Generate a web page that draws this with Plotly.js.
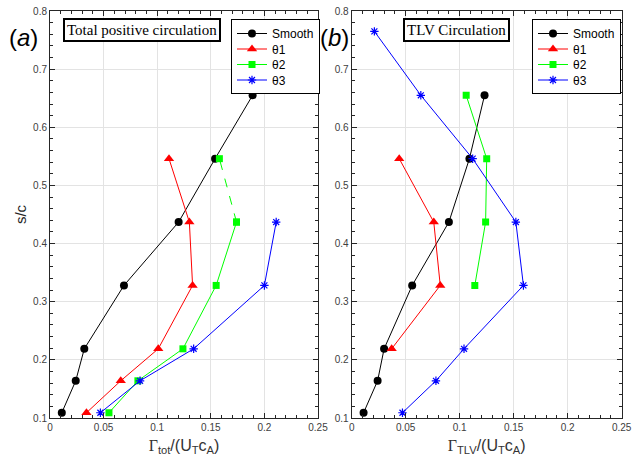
<!DOCTYPE html>
<html>
<head>
<meta charset="utf-8">
<script src="https://cdn.plot.ly/plotly-3.0.1.min.js"></script>
<style>html,body{margin:0;padding:0;background:#fff;}#chart{width:635px;height:457px;}</style>
</head>
<body>
<div id="chart"></div>
<script>
// ---- data (s/c levels and normalized circulation) ----
const seriesNames = ['Smooth', 'θ1', 'θ2', 'θ3'];

// (a) Total positive circulation
const totSmoothS = [0.109, 0.164, 0.219, 0.328, 0.437, 0.546, 0.655];
const totSmoothX = [0.011, 0.024, 0.032, 0.069, 0.120, 0.154, 0.189];
const totTheta1S = [0.109, 0.164, 0.219, 0.328, 0.437, 0.546];
const totTheta1X = [0.034, 0.066, 0.101, 0.133, 0.130, 0.111];
const totTheta2S = [0.109, 0.164, 0.219, 0.328, 0.437, 0.546];
const totTheta2X = [0.055, 0.082, 0.124, 0.155, 0.174, 0.158];
const totTheta3S = [0.109, 0.164, 0.219, 0.328, 0.437];
const totTheta3X = [0.047, 0.084, 0.134, 0.200, 0.211];

// (b) TLV circulation
const tlvSmoothS = [0.109, 0.164, 0.219, 0.328, 0.437, 0.546, 0.655];
const tlvSmoothX = [0.011, 0.024, 0.030, 0.056, 0.090, 0.109, 0.123];
const tlvTheta1S = [0.219, 0.328, 0.437, 0.546];
const tlvTheta1X = [0.037, 0.082, 0.076, 0.044];
const tlvTheta2S = [0.328, 0.437, 0.546, 0.655];
const tlvTheta2X = [0.114, 0.124, 0.125, 0.106];
const tlvTheta3S = [0.109, 0.164, 0.219, 0.328, 0.437, 0.546, 0.655, 0.765];
const tlvTheta3X = [0.047, 0.078, 0.104, 0.159, 0.152, 0.112, 0.064, 0.021];

const xTicks = [0, 0.05, 0.1, 0.15, 0.2, 0.25];
const xTickText = ['0', '0.05', '0.1', '0.15', '0.2', '0.25'];
const yTicks = [0.1, 0.2, 0.3, 0.4, 0.5, 0.6, 0.7, 0.8];
const yTickText = ['0.1', '0.2', '0.3', '0.4', '0.5', '0.6', '0.7', '0.8'];

// ---- styles ----
const styles = [
  {color: '#000000', symbol: 'circle', size: 8},
  {color: '#ff0000', symbol: 'triangle-up', size: 9},
  {color: '#00ff00', symbol: 'square', size: 7},
  {color: '#0000ff', symbol: 'asterisk-open', size: 7}
];

function tr(x, y, i, xa, ya, leg, showleg, dash) {
  const s = styles[i];
  const m = {color: s.color, symbol: s.symbol, size: s.size};
  if (s.symbol === 'asterisk-open') m.line = {color: s.color, width: 1.2};
  return {
    x: x, y: y, type: 'scatter', mode: 'lines+markers',
    name: seriesNames[i], xaxis: xa, yaxis: ya, legend: leg,
    showlegend: showleg,
    line: {color: s.color, width: 1, dash: dash || 'solid'},
    marker: m
  };
}

const nT2 = totTheta2S.length;
const data = [
  tr(totSmoothX, totSmoothS, 0, 'x', 'y', 'legend', true),
  tr(totTheta1X, totTheta1S, 1, 'x', 'y', 'legend', true),
  tr(totTheta2X.slice(0, nT2 - 1), totTheta2S.slice(0, nT2 - 1), 2, 'x', 'y', 'legend', true),
  tr(totTheta2X.slice(nT2 - 2), totTheta2S.slice(nT2 - 2), 2, 'x', 'y', 'legend', false, 'dash'),
  tr(totTheta3X, totTheta3S, 3, 'x', 'y', 'legend', true),
  tr(tlvSmoothX, tlvSmoothS, 0, 'x2', 'y2', 'legend2', true),
  tr(tlvTheta1X, tlvTheta1S, 1, 'x2', 'y2', 'legend2', true),
  tr(tlvTheta2X, tlvTheta2S, 2, 'x2', 'y2', 'legend2', true),
  tr(tlvTheta3X, tlvTheta3S, 3, 'x2', 'y2', 'legend2', true)
];

const W = 635, H = 457;
const axisCol = '#262626';
const tickFont = {family: 'Liberation Sans, Arial, sans-serif', size: 10, color: '#404040'};

function xAxis(d0, d1, anchor, titleHtml) {
  return {
    domain: [d0 / W, d1 / W], anchor: anchor, range: [0, 0.25],
    tickmode: 'array', tickvals: xTicks, ticktext: xTickText,
    ticks: 'inside', ticklen: 5, tickcolor: axisCol, tickwidth: 1,
    showline: true, linecolor: axisCol, linewidth: 1, mirror: 'allticks',
    showgrid: true, gridcolor: '#e3e3e3', gridwidth: 1, zeroline: false,
    minor: {tickmode: 'linear', tick0: 0, dtick: 0.01, ticks: 'inside', ticklen: 3, tickcolor: axisCol, showgrid: false},
    tickfont: tickFont,
    title: {text: titleHtml, font: {family: 'Liberation Sans, Arial, sans-serif', size: 16, color: '#333'}, standoff: 7}
  };
}
function yAxis(anchor, titleText) {
  return {
    domain: [1 - 418 / H, 1 - 11 / H], anchor: anchor, range: [0.1, 0.8],
    tickmode: 'array', tickvals: yTicks, ticktext: yTickText,
    ticks: 'inside', ticklen: 5, tickcolor: axisCol, tickwidth: 1,
    showline: true, linecolor: axisCol, linewidth: 1, mirror: 'allticks',
    showgrid: true, gridcolor: '#e3e3e3', gridwidth: 1, zeroline: false,
    minor: {tickmode: 'linear', tick0: 0.1, dtick: 0.02, ticks: 'inside', ticklen: 3, tickcolor: axisCol, showgrid: false},
    tickfont: tickFont,
    title: {text: titleText, font: {family: 'Liberation Sans, Arial, sans-serif', size: 15, color: '#262626'}, standoff: 2}
  };
}

const G = '<span style="font-family:Liberation Serif">Γ</span>';
const legendBase = {
  bgcolor: '#ffffff', bordercolor: '#000000', borderwidth: 1,
  font: {family: 'Liberation Sans, Arial, sans-serif', size: 12, color: '#000'},
  xanchor: 'left', yanchor: 'top', xref: 'paper', yref: 'paper',
  tracegroupgap: 0, itemwidth: 30
};

function boxTitle(text, cx) {
  return {text: text, xref: 'paper', yref: 'paper', x: cx / W, y: 1 - 30.5 / H,
    xanchor: 'center', yanchor: 'middle',
    showarrow: false, font: {family: 'Liberation Serif, Times New Roman, serif', size: 15, color: '#000'},
    bordercolor: '#000', borderwidth: 2, borderpad: 2, bgcolor: '#fff'};
}
function panelLabel(text, cx) {
  return {text: text, xref: 'paper', yref: 'paper', x: cx / W, y: 1 - 37 / H,
    xanchor: 'center', yanchor: 'middle',
    showarrow: false, font: {family: 'Liberation Sans, Arial, sans-serif', size: 24, color: '#000'}};
}

const layout = {
  width: W, height: H,
  margin: {l: 0, r: 0, t: 0, b: 0},
  paper_bgcolor: '#ffffff', plot_bgcolor: '#ffffff',
  showlegend: true,
  xaxis: xAxis(50, 318, 'y', G + '<sub>tot</sub>/(U<sub>T</sub>c<sub>A</sub>)'),
  yaxis: yAxis('x', 's/c'),
  xaxis2: xAxis(351.7, 621.7, 'y2', G + '<sub>TLV</sub>/(U<sub>T</sub>c<sub>A</sub>)'),
  yaxis2: yAxis('x2', ''),
  legend: Object.assign({}, legendBase, {x: 231 / W, y: 1 - 19 / H}),
  legend2: Object.assign({}, legendBase, {x: 532 / W, y: 1 - 19 / H}),
  annotations: [
    boxTitle('Total positive circulation', 141.5),
    boxTitle('TLV Circulation', 456),
    panelLabel('(<i>a</i>)', 23),
    panelLabel('(<i>b</i>)', 335)
  ]
};

// Tighten legend row spacing (MATLAB-style compact legend)
function compactLegend(cls, step) {
  const g = document.querySelector('#chart g.' + cls);
  if (!g) return;
  const items = g.querySelectorAll('g.traces');
  if (items.length < 2) return;
  const parse = el => {
    const m = /translate\(\s*([-\d.e]+)[ ,]+([-\d.e]+)\s*\)/.exec(el.getAttribute('transform') || '');
    return m ? [parseFloat(m[1]), parseFloat(m[2])] : null;
  };
  const p0 = parse(items[0]), p1 = parse(items[1]);
  if (!p0 || !p1) return;
  const orig = p1[1] - p0[1];
  const startY = p0[1] - 1;
  items.forEach((it, i) => {
    const p = parse(it);
    if (p) it.setAttribute('transform', 'translate(' + p[0] + ',' + (startY + i * step) + ')');
  });
  const shrink = (items.length - 1) * (orig - step) + 3;
  g.querySelectorAll('rect.bg').forEach(bg => {
    const h = parseFloat(bg.getAttribute('height'));
    if (!isNaN(h)) bg.setAttribute('height', h - shrink);
  });
}

Plotly.newPlot('chart', data, layout, {displayModeBar: false, staticPlot: true}).then(() => {
  compactLegend('legend', 15.5);
  compactLegend('legend2', 15.5);
});
</script>
</body>
</html>
